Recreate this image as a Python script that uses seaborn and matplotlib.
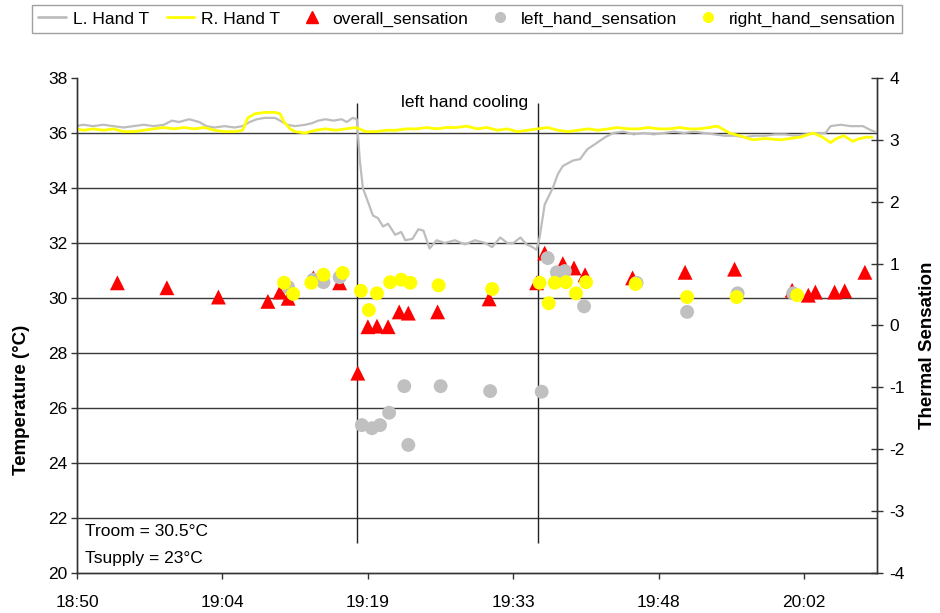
import numpy as np
import pandas as pd
import matplotlib
matplotlib.use("Agg")
import matplotlib.pyplot as plt
import seaborn as sns
from matplotlib.lines import Line2D

# ---------------- data (time in minutes of the day) ----------------
l_hand_time = [1130.3, 1131.0, 1132.0, 1133.0, 1134.0, 1135.0, 1136.0, 1137.0, 1138.0, 1139.0,
               1139.8, 1140.5, 1141.5, 1142.5, 1143.2, 1144.0, 1145.0, 1146.0, 1146.8, 1147.5,
               1148.2, 1149.0, 1150.0, 1150.5, 1151.2, 1152.0, 1153.0, 1153.6, 1154.3, 1155.0,
               1155.8, 1156.6, 1157.1, 1157.7, 1158.1, 1158.4, 1158.7, 1159.2, 1159.7, 1160.2,
               1160.7, 1161.2, 1161.9, 1162.5, 1162.9, 1163.6, 1164.2, 1164.7, 1165.3, 1166.0,
               1166.8, 1167.8, 1168.8, 1169.8, 1170.8, 1171.5, 1172.3, 1173.0, 1173.6, 1174.3,
               1174.9, 1175.5, 1175.9, 1176.2, 1176.7, 1177.5, 1178.0, 1178.5, 1179.0, 1179.5,
               1180.2, 1180.9, 1181.9, 1182.7, 1183.5, 1184.5, 1185.5, 1186.5, 1187.5, 1188.5,
               1189.5, 1190.5, 1191.5, 1192.5, 1193.5, 1194.5, 1195.5, 1196.5, 1197.5, 1198.5,
               1199.5, 1200.5, 1201.5, 1202.5, 1203.5, 1204.5, 1205.0, 1206.0, 1207.0, 1208.2,
               1209.0, 1209.4]
l_hand_temp = [36.25, 36.30, 36.25, 36.30, 36.25, 36.20, 36.25, 36.30, 36.25, 36.30,
               36.45, 36.40, 36.50, 36.40, 36.25, 36.20, 36.25, 36.20, 36.25, 36.40,
               36.50, 36.55, 36.55, 36.45, 36.30, 36.25, 36.30, 36.35, 36.45, 36.50,
               36.45, 36.50, 36.40, 36.55, 36.50, 35.00, 34.00, 33.50, 33.00, 32.90,
               32.60, 32.70, 32.30, 32.40, 32.10, 32.15, 32.50, 32.45, 31.80, 32.10,
               32.00, 32.10, 31.95, 32.10, 32.00, 31.85, 32.20, 32.00, 32.00, 32.20,
               31.95, 31.85, 31.75, 32.20, 33.40, 34.00, 34.50, 34.80, 34.90, 35.00,
               35.05, 35.40, 35.65, 35.85, 36.00, 36.05, 35.95, 36.00, 35.95, 36.00,
               36.05, 36.00, 36.05, 36.00, 35.95, 35.90, 35.90, 35.85, 35.90, 35.90,
               35.95, 35.95, 35.90, 35.95, 36.00, 36.00, 36.25, 36.30, 36.25, 36.25,
               36.10, 36.05]

r_hand_time = [1130.3, 1131.0, 1132.0, 1133.0, 1134.0, 1135.0, 1136.0, 1137.0, 1138.0, 1139.0,
               1140.0, 1141.0, 1142.0, 1143.0, 1144.0, 1145.0, 1146.0, 1146.8, 1147.3, 1148.0,
               1149.0, 1150.0, 1150.5, 1150.9, 1151.5, 1152.0, 1153.0, 1154.0, 1155.0, 1156.0,
               1157.0, 1158.0, 1159.0, 1160.0, 1161.0, 1162.0, 1163.0, 1164.0, 1165.0, 1166.0,
               1167.0, 1168.0, 1169.0, 1170.0, 1171.0, 1172.0, 1173.0, 1174.0, 1175.0, 1176.0,
               1177.0, 1178.0, 1179.0, 1180.0, 1181.0, 1182.0, 1183.0, 1183.9, 1185.0, 1186.0,
               1187.0, 1188.0, 1189.0, 1190.0, 1191.0, 1192.0, 1193.0, 1193.8, 1195.0, 1196.0,
               1197.3, 1198.5, 1200.0, 1201.0, 1202.0, 1203.3, 1204.2, 1205.0, 1205.6, 1206.3,
               1207.2, 1207.9, 1208.6, 1209.1]
r_hand_temp = [36.15, 36.10, 36.15, 36.10, 36.15, 36.05, 36.05, 36.10, 36.15, 36.20,
               36.15, 36.20, 36.15, 36.20, 36.10, 36.05, 36.05, 36.10, 36.55, 36.70,
               36.75, 36.75, 36.70, 36.40, 36.15, 36.05, 36.00, 36.10, 36.15, 36.10,
               36.15, 36.20, 36.05, 36.05, 36.10, 36.10, 36.15, 36.15, 36.20, 36.15,
               36.20, 36.20, 36.25, 36.15, 36.20, 36.10, 36.15, 36.05, 36.10, 36.15,
               36.20, 36.10, 36.05, 36.10, 36.15, 36.10, 36.15, 36.20, 36.15, 36.15,
               36.20, 36.15, 36.15, 36.20, 36.15, 36.15, 36.20, 36.25, 36.00, 35.90,
               35.75, 35.80, 35.75, 35.80, 35.85, 36.00, 35.85, 35.65, 35.80, 35.90,
               35.70, 35.80, 35.85, 35.85]

overall_time = [1134.4, 1139.3, 1144.4, 1149.3, 1150.5, 1151.3, 1153.8, 1156.4, 1158.2, 1159.2,
                1160.1, 1161.2, 1162.3, 1163.2, 1166.1, 1171.2, 1175.9, 1176.7, 1178.5, 1179.6,
                1180.7, 1185.4, 1190.6, 1195.5, 1201.2, 1202.8, 1203.5, 1205.4, 1206.4, 1208.4]
overall_sens = [0.69, 0.61, 0.46, 0.39, 0.54, 0.44, 0.77, 0.69, -0.77, -0.02,
                -0.01, -0.02, 0.22, 0.20, 0.22, 0.43, 0.69, 1.17, 1.00, 0.93,
                0.82, 0.77, 0.86, 0.91, 0.57, 0.49, 0.54, 0.54, 0.56, 0.86]

left_time = [1151.3, 1153.8, 1154.8, 1156.4, 1158.6, 1159.6, 1160.4, 1161.3, 1162.8, 1163.2,
             1166.4, 1171.3, 1176.4, 1177.0, 1177.9, 1178.7, 1180.6, 1185.8, 1190.8, 1195.8,
             1201.3]
left_sens = [0.62, 0.74, 0.70, 0.78, -1.61, -1.66, -1.61, -1.41, -0.98, -1.93,
             -0.98, -1.06, -1.07, 1.09, 0.86, 0.88, 0.31, 0.69, 0.22, 0.52,
             0.52]

right_time = [1150.9, 1151.8, 1153.6, 1154.8, 1156.7, 1158.5, 1159.3, 1160.1, 1161.4, 1162.5,
              1163.4, 1166.2, 1171.5, 1176.2, 1177.1, 1177.7, 1178.8, 1179.8, 1180.8, 1185.7,
              1190.8, 1195.7, 1201.7]
right_sens = [0.69, 0.51, 0.69, 0.82, 0.85, 0.56, 0.25, 0.52, 0.70, 0.74,
              0.69, 0.65, 0.59, 0.69, 0.36, 0.69, 0.70, 0.52, 0.70, 0.67,
              0.46, 0.46, 0.49]

x_tick_pos = [1130.4, 1144.8, 1159.2, 1173.6, 1188.0, 1202.4]
x_tick_labels = ["18:50", "19:04", "19:19", "19:33", "19:48", "20:02"]
cooling_events = [1158.1, 1176.0]

# ---------------- plotting ----------------
sns.set_theme(style="white")
plt.rcParams['font.family'] = ['Liberation Sans', 'DejaVu Sans']
plt.rcParams['axes.unicode_minus'] = False
plt.rcParams['text.color'] = 'black'
plt.rcParams['xtick.color'] = 'black'
plt.rcParams['ytick.color'] = 'black'

fig = plt.figure(figsize=(9.4, 6.13), dpi=100)
ax = fig.add_axes([77/940, 1-573/613, 800/940, 495/613])
ax2 = ax.twinx()

grid_c = "#3a3a3a"
for yv in range(22, 38, 2):
    ax.axhline(yv, color=grid_c, lw=1.0, zorder=0)

sns.lineplot(x=l_hand_time, y=l_hand_temp, ax=ax, color="#bdbdbd", lw=1.6,
             estimator=None, sort=False, zorder=2)
sns.lineplot(x=r_hand_time, y=r_hand_temp, ax=ax, color="#ffff00", lw=2.0,
             estimator=None, sort=False, zorder=3)

ax.vlines(cooling_events, 21.1, 37.1, color="#222222", lw=1.0, zorder=1)

sns.scatterplot(x=overall_time, y=overall_sens, ax=ax2, marker="^", color="#ff0000",
                s=115, edgecolor="none", zorder=3)
sns.scatterplot(x=left_time, y=left_sens, ax=ax2, marker="o", color="#c0c0c0",
                s=100, edgecolor="none", zorder=4)
sns.scatterplot(x=right_time, y=right_sens, ax=ax2, marker="o", color="#ffff00",
                s=100, edgecolor="none", zorder=5)

ax.set_xlim(1130.4, 1209.6)
ax.set_ylim(20, 38)
ax2.set_ylim(-4, 4)
ax.set_yticks(range(20, 39, 2))
ax2.set_yticks(range(-4, 5))
ax.set_xticks(x_tick_pos)
ax.set_xticklabels(x_tick_labels)

for a in (ax, ax2):
    a.spines['top'].set_visible(False)
    for s in ('left', 'right', 'bottom'):
        a.spines[s].set_color("#333333")
        a.spines[s].set_linewidth(1.0)
    a.set_xlabel("")
    a.set_ylabel("")

ax.tick_params(axis='y', which='both', direction='out', length=4, width=1, color="#333333",
               labelsize=12.5, pad=3, left=True)
ax.tick_params(axis='x', direction='out', length=4, width=1, color="#333333",
               labelsize=12.5, pad=12, bottom=True)
ax2.tick_params(axis='y', direction='inout', length=8, width=1, color="#333333",
                labelsize=12.5, pad=5, right=True)

fig.text(22/940, 1-400/613, "Temperature (°C)", rotation=90, ha='center', va='center',
         fontsize=13.5, fontweight='bold')
fig.text(928/940, 1-345/613, "Thermal Sensation", rotation=90, ha='center', va='center',
         fontsize=13.5, fontweight='bold')

ax.text(465/940, 1-102/613, "left hand cooling", transform=fig.transFigure,
        ha='center', va='center', fontsize=12.5)
ax.text(85/940, 1-531/613, "Troom = 30.5°C", transform=fig.transFigure,
        ha='left', va='center', fontsize=12.5)
ax.text(85/940, 1-558/613, "Tsupply = 23°C", transform=fig.transFigure,
        ha='left', va='center', fontsize=12.5)

handles = [
    Line2D([], [], color="#bdbdbd", lw=2),
    Line2D([], [], color="#ffff00", lw=2),
    Line2D([], [], color="#ff0000", marker="^", ls="none", markersize=8),
    Line2D([], [], color="#c0c0c0", marker="o", ls="none", markersize=7),
    Line2D([], [], color="#ffff00", marker="o", ls="none", markersize=7),
]
labels = ["L. Hand T", "R. Hand T", "overall_sensation", "left_hand_sensation",
          "right_hand_sensation"]
leg = fig.legend(handles, labels, loc='center', bbox_to_anchor=(467/940, 1-19/613),
                 ncol=5, fontsize=12.5, frameon=True, fancybox=False, edgecolor="#888888",
                 handlelength=1.6, handletextpad=0.4, columnspacing=1.0,
                 borderpad=0.35)
leg.get_frame().set_linewidth(1.0)

fig.savefig("out.png", dpi=100)
